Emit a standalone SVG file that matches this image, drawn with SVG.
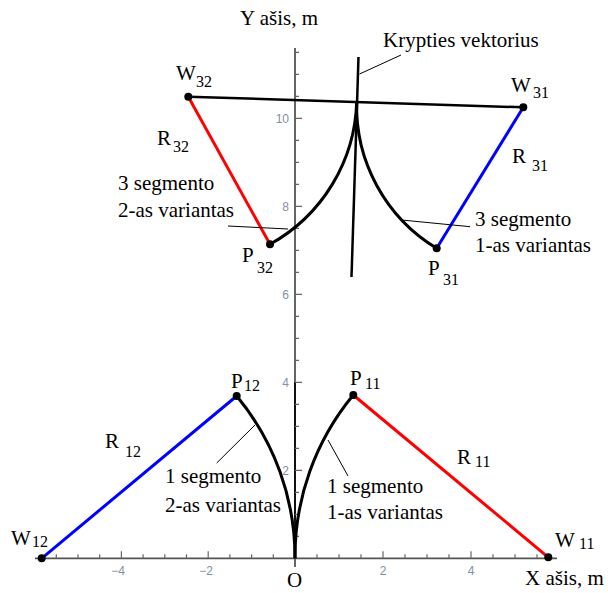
<svg xmlns="http://www.w3.org/2000/svg" width="608" height="593" viewBox="0 0 608 593">
<style>
.t{font-family:"Liberation Serif","DejaVu Serif",serif;font-size:21px;fill:#000}
.sub{font-size:16px}
.tl{font-family:"Liberation Sans","DejaVu Sans",sans-serif;font-size:12px;fill:#7f8fa6}
.axis{stroke:#555;stroke-width:1.8;fill:none}
.tick{stroke:#666;stroke-width:1.2;fill:none}
.curve{stroke:#000;stroke-width:3;fill:none}
.red{stroke:#ff0000;stroke-width:3;fill:none}
.blue{stroke:#0000ff;stroke-width:3;fill:none}
.blk{stroke:#000;stroke-width:2.5;fill:none}
.lead{stroke:#000;stroke-width:1;fill:none}
.dot{fill:#000}
</style>
<rect width="608" height="593" fill="#fff"/>
<g id="axes">
<line class="axis" x1="295" y1="48" x2="295" y2="567"/>
<line class="axis" x1="35" y1="558.3" x2="557" y2="558.3" stroke="#333"/>
<line x1="295" y1="382" x2="295" y2="558" stroke="#111" stroke-width="2"/>
<path class="tick" d="M295,536.3h4M295,514.3h4M295,492.3h4M295,470.3h7M295,448.3h4M295,426.3h4M295,404.3h4M295,382.3h7M295,360.3h4M295,338.3h4M295,316.3h4M295,294.3h7M295,272.3h4M295,250.3h4M295,228.3h4M295,206.3h7M295,184.3h4M295,162.3h4M295,140.3h4M295,118.3h7M295,96.3h4M295,74.3h4M295,52.3h4"/>
<path class="tick" d="M273.3,558.3v-4M251.6,558.3v-4M229.9,558.3v-4M208.2,558.3v-7M186.5,558.3v-4M164.8,558.3v-4M143.1,558.3v-4M121.4,558.3v-7M99.7,558.3v-4M78,558.3v-4M56.3,558.3v-4M317,558.3v-4M339,558.3v-4M361,558.3v-4M383,558.3v-7M405,558.3v-4M427,558.3v-4M449,558.3v-4M471,558.3v-7M493,558.3v-4M515,558.3v-4M537,558.3v-4"/>
<text class="tl" x="289" y="474.5" text-anchor="end">2</text>
<text class="tl" x="289" y="386.5" text-anchor="end">4</text>
<text class="tl" x="289" y="298.5" text-anchor="end">6</text>
<text class="tl" x="289" y="210.5" text-anchor="end">8</text>
<text class="tl" x="289" y="122.5" text-anchor="end">10</text>
<text class="tl" x="118" y="575" text-anchor="middle">−4</text>
<text class="tl" x="206" y="575" text-anchor="middle">−2</text>
<text class="tl" x="383" y="575" text-anchor="middle">2</text>
<text class="tl" x="471" y="575" text-anchor="middle">4</text>
<text class="t" font-family="Liberation Serif" x="240" y="25">Y ašis, m</text>
<text class="t" font-family="Liberation Serif" x="525" y="585">X ašis, m</text>
<text class="t" font-family="Liberation Serif" x="287" y="587">O</text>
</g>
<g id="connectors">
<line class="blk" x1="188.3" y1="96.7" x2="523.3" y2="107.3"/>
<line class="blk" x1="358.5" y1="57" x2="351.5" y2="277"/>
<path class="curve" d="M356.7,101.5A168.5,168.5 0 0 1 270,244.3"/>
<path class="curve" d="M356.7,101.5A166,166 0 0 0 436.7,248.3"/>
<path class="curve" d="M295,558.3A253.3,253.3 0 0 0 236.7,396"/>
<path class="curve" d="M295,558.3A253.3,253.3 0 0 1 353.3,395"/>
<line class="red" x1="188.3" y1="96.7" x2="270" y2="244.3"/>
<line class="blue" x1="523.3" y1="107.3" x2="436.7" y2="248.3"/>
<line class="blue" x1="41.7" y1="558.3" x2="236.7" y2="396"/>
<line class="red" x1="548.3" y1="557.3" x2="353.3" y2="395"/>
<line class="lead" x1="401" y1="55" x2="359.5" y2="74"/>
<line class="lead" x1="228" y1="226" x2="288" y2="229"/>
<line class="lead" x1="401.7" y1="220" x2="470" y2="226.7"/>
<line class="lead" x1="216.7" y1="463" x2="255" y2="425"/>
<line class="lead" x1="328" y1="440" x2="348" y2="476"/>
</g>
<g class="t" font-family="Liberation Serif">
<g id="vector-label"><text x="383" y="47">Krypties vektorius</text></g>
<g id="W32"><circle class="dot" cx="188.3" cy="96.7" r="4"/><text x="176" y="80">W<tspan class="sub" x="196" y="87">32</tspan></text></g>
<g id="W31"><circle class="dot" cx="523.3" cy="107.3" r="4"/><text x="511" y="92">W<tspan class="sub" x="533" y="98">31</tspan></text></g>
<g id="R32"><text x="157" y="145">R<tspan class="sub" x="173" y="152">32</tspan></text></g>
<g id="R31"><text x="512" y="163">R<tspan class="sub" x="532" y="171">31</tspan></text></g>
<g id="P32"><circle class="dot" cx="270" cy="244.3" r="4"/><text x="242" y="262">P<tspan class="sub" x="257" y="273">32</tspan></text></g>
<g id="P31"><circle class="dot" cx="436.7" cy="248.3" r="4"/><text x="428" y="275">P<tspan class="sub" x="443" y="285">31</tspan></text></g>
<g id="seg3v2"><text x="118" y="190">3 segmento</text><text x="118" y="217">2-as variantas</text></g>
<g id="seg3v1"><text x="475" y="225.7">3 segmento</text><text x="475" y="252.3">1-as variantas</text></g>
<g id="W12"><circle class="dot" cx="41.7" cy="558.3" r="4"/><text x="11" y="545">W<tspan class="sub" x="32" y="547">12</tspan></text></g>
<g id="W11"><circle class="dot" cx="548.3" cy="557.3" r="4"/><text x="555" y="546.7">W<tspan class="sub" x="579" y="549">11</tspan></text></g>
<g id="P12"><circle class="dot" cx="236.7" cy="396" r="4"/><text x="231" y="388">P<tspan class="sub" x="244" y="391">12</tspan></text></g>
<g id="P11"><circle class="dot" cx="353.3" cy="395" r="4"/><text x="350" y="385">P<tspan class="sub" x="365" y="389">11</tspan></text></g>
<g id="R12"><text x="105" y="448">R<tspan class="sub" x="125" y="457">12</tspan></text></g>
<g id="R11"><text x="457" y="464">R<tspan class="sub" x="475" y="467">11</tspan></text></g>
<g id="seg1v2"><text x="165" y="483">1 segmento</text><text x="165" y="512">2-as variantas</text></g>
<g id="seg1v1"><text x="327" y="493">1 segmento</text><text x="327" y="519">1-as variantas</text></g>
</g>
</svg>
